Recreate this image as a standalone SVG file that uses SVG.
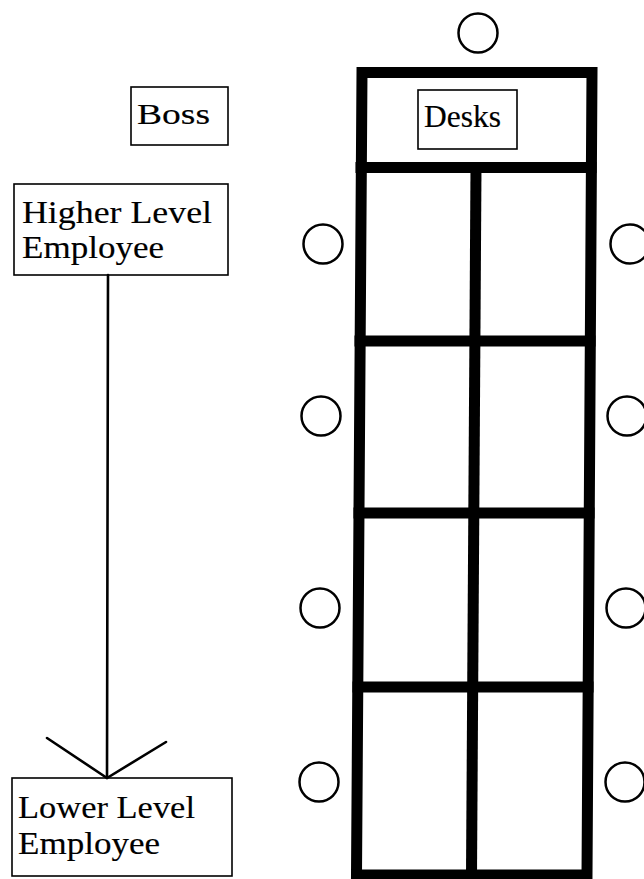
<svg xmlns="http://www.w3.org/2000/svg" width="644" height="879" viewBox="0 0 644 879">
  <style>
    .box { fill: #fff; stroke: #000; stroke-width: 1.6; }
    .lbl { font-family: "Liberation Serif", "Times New Roman", serif; fill: #000; stroke: #000; stroke-width: 0.15; }
    .seat { fill: none; stroke: #000; stroke-width: 2.5; }
    .wall { fill: none; stroke: #000; stroke-width: 11; stroke-linecap: square; stroke-linejoin: miter; }
    .edge { fill: none; stroke: #000; stroke-width: 2.6; stroke-linecap: round; }
  </style>
  <rect width="644" height="879" fill="#fff"/>

  <!-- desk block: outer frame, header row and 2 x 4 grid -->
  <g id="desk-block">
    <path class="wall" d="M362,72.5 L592,72.5 L587,875 L356.5,875 Z"/>
    <path class="wall" d="M361,167.5 L591,167.5"/>
    <path class="wall" d="M476,167.5 L471.5,875"/>
    <path class="wall" d="M360,341 L590,341"/>
    <path class="wall" d="M359,513 L589,513"/>
    <path class="wall" d="M358,687 L588,687"/>
  </g>

  <g id="desks">
    <rect class="box" x="418" y="90" width="99" height="59"/>
    <text class="lbl" x="424" y="127" font-size="31" textLength="77" lengthAdjust="spacingAndGlyphs">Desks</text>
  </g>

  <!-- seats around the desk block -->
  <g id="seats">
    <circle class="seat" cx="478" cy="33" r="19.5"/>
    <circle class="seat" cx="323" cy="244" r="19.5"/>
    <circle class="seat" cx="321" cy="416" r="19.5"/>
    <circle class="seat" cx="320" cy="608" r="19.5"/>
    <circle class="seat" cx="319" cy="782" r="19.5"/>
    <circle class="seat" cx="630" cy="244" r="19.5"/>
    <circle class="seat" cx="627" cy="416" r="19.5"/>
    <circle class="seat" cx="626" cy="608" r="19.5"/>
    <circle class="seat" cx="625" cy="782" r="19.5"/>
  </g>

  <g id="boss">
    <rect class="box" x="131" y="87" width="97" height="58"/>
    <text class="lbl" x="137" y="124" font-size="29" textLength="73" lengthAdjust="spacingAndGlyphs">Boss</text>
  </g>

  <g id="higher-level-employee">
    <rect class="box" x="14" y="184" width="214" height="91"/>
    <text class="lbl" x="22" y="223" font-size="31" textLength="190" lengthAdjust="spacingAndGlyphs">Higher Level</text>
    <text class="lbl" x="22" y="258" font-size="31" textLength="142" lengthAdjust="spacingAndGlyphs">Employee</text>
  </g>

  <g id="lower-level-employee">
    <rect class="box" x="12" y="778" width="220" height="98"/>
    <text class="lbl" x="18" y="818" font-size="31" textLength="177" lengthAdjust="spacingAndGlyphs">Lower Level</text>
    <text class="lbl" x="18" y="854" font-size="31" textLength="142" lengthAdjust="spacingAndGlyphs">Employee</text>
  </g>

  <!-- reporting line from higher to lower level -->
  <g id="connectors">
    <path class="edge" d="M108,275 L107,778"/>
    <path class="edge" d="M47,738 L107,778 L166,742"/>
  </g>
</svg>
